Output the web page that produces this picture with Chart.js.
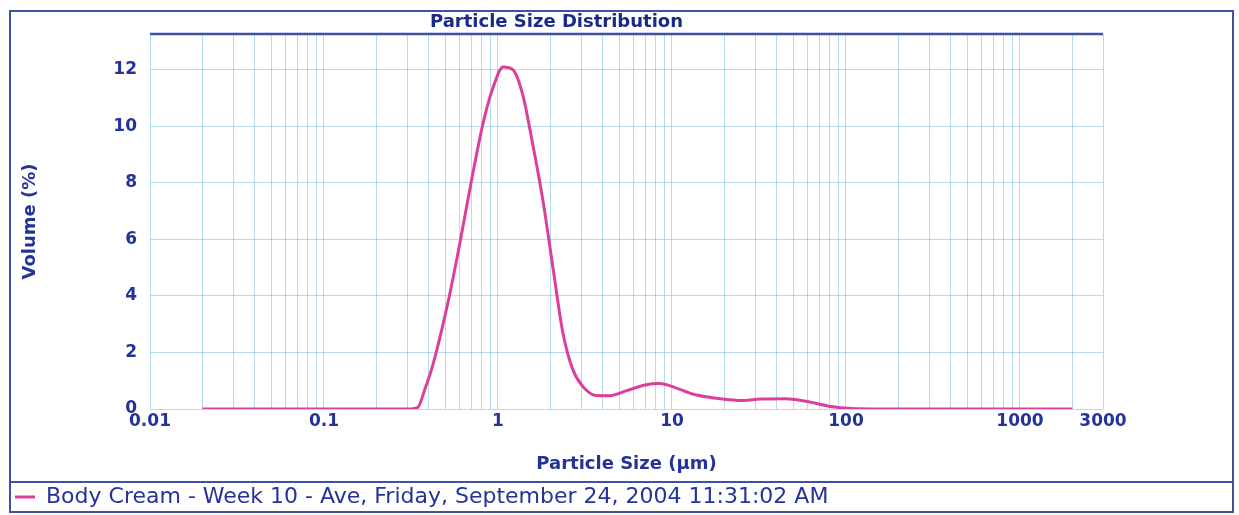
<!DOCTYPE html>
<html>
<head>
<meta charset="utf-8">
<title>Particle Size Distribution</title>
<script src="https://cdn.jsdelivr.net/npm/chart.js@4.4.1/dist/chart.umd.min.js"></script>
<style>
  html, body { margin: 0; padding: 0; background: #fff; }
  #wrap { width: 1239px; height: 515px; }
</style>
</head>
<body>
<div id="wrap"><canvas id="psdChart" width="1239" height="515"></canvas></div>
<script>
// particle size (µm) and volume (%)
const particleSize = [0.02, 0.05, 0.1, 0.2, 0.3, 0.345, 0.38, 0.424, 0.517, 0.605, 0.70, 0.82, 0.94, 1.07,
    1.22, 1.39, 1.58, 1.81, 2.07, 2.36, 2.69, 3.07, 3.64, 4.37, 5.5, 7.0, 8.5, 10.5, 13.1, 17, 21.3, 26,
    32, 45, 58, 80, 108, 200, 500, 1000, 2000];
const volumePct = [0, 0, 0, 0, 0, 0.05, 0.7, 1.6, 3.8, 5.9, 8.0, 10.1, 11.4, 12.1,
    12.0, 11.1, 9.4, 7.4, 5.0, 2.7, 1.4, 0.8, 0.48, 0.47, 0.65, 0.85, 0.9, 0.75, 0.53, 0.4, 0.33, 0.3,
    0.35, 0.36, 0.28, 0.1, 0.02, 0, 0, 0, 0];

const xTickLabels = [0.01, 0.1, 1, 10, 100, 1000, 3000];
const yTickValues = [0, 2, 4, 6, 8, 10, 12];
const seriesLabel = 'Body Cream - Week 10 - Ave, Friday, September 24, 2004 11:31:02 AM';

const textBlue = '#24339a';
const frameBlue = '#3b52a6';
const gridBlue = 'rgba(120, 185, 225, 0.55)';

// gridlines at every 1..9 step of each decade, plus the 3000 end
const xGridTicks = [];
for (let n = -2; n <= 3; n++) {
    for (let k = 1; k <= 9; k++) {
        const v = Number((k * Math.pow(10, n)).toPrecision(6));
        if (v >= 0.01 && v <= 3000) xGridTicks.push(v);
    }
}

const isLabelled = v => xTickLabels.some(t => Math.abs(t - v) / t < 1e-6);

// white background, outer frame, legend divider and the plot top rule
const framePlugin = {
    id: 'frame',
    beforeDraw(chart) {
        const ctx = chart.ctx;
        ctx.save();
        ctx.fillStyle = '#fff';
        ctx.fillRect(0, 0, chart.width, chart.height);
        ctx.restore();
    },
    afterDraw(chart) {
        const { ctx, chartArea } = chart;
        ctx.save();
        ctx.strokeStyle = frameBlue;
        ctx.lineWidth = 2;
        ctx.strokeRect(10, 11, 1223, 501);
        ctx.beginPath();
        ctx.moveTo(10, 482);
        ctx.lineTo(1233, 482);
        ctx.stroke();
        ctx.lineWidth = 2.5;
        ctx.beginPath();
        ctx.moveTo(chartArea.left, chartArea.top);
        ctx.lineTo(chartArea.right, chartArea.top);
        ctx.stroke();
        ctx.restore();
    }
};

const ctx = document.getElementById('psdChart').getContext('2d');
new Chart(ctx, {
    type: 'line',
    data: {
        datasets: [{
            label: seriesLabel,
            data: particleSize.map((s, i) => ({ x: s, y: volumePct[i] })),
            borderColor: '#dc3f9b',
            backgroundColor: '#dc3f9b',
            borderWidth: 3,
            pointRadius: 0,
            fill: false,
            cubicInterpolationMode: 'monotone'
        }]
    },
    options: {
        responsive: false,
        devicePixelRatio: 1,
        animation: false,
        layout: { padding: { left: 10, right: 136, top: 10, bottom: -3 } },
        plugins: {
            title: {
                display: true,
                text: 'Particle Size Distribution',
                color: '#1b2a8a',
                font: { family: 'DejaVu Sans', size: 18, weight: 'bold' },
                padding: { top: 2, bottom: 0.4 }
            },
            legend: {
                position: 'bottom',
                align: 'start',
                labels: {
                    usePointStyle: true,
                    pointStyle: 'line',
                    pointStyleWidth: 20,
                    padding: 5,
                    color: textBlue,
                    font: { family: 'DejaVu Sans', size: 22 }
                }
            },
            tooltip: { enabled: false }
        },
        scales: {
            x: {
                type: 'logarithmic',
                min: 0.01,
                max: 3000,
                afterBuildTicks: scale => {
                    scale.ticks = xGridTicks.map(v => ({ value: v }));
                },
                afterFit: scale => { scale.height = 72; },
                ticks: {
                    autoSkip: false,
                    maxRotation: 0,
                    padding: 2,
                    color: textBlue,
                    font: { family: 'DejaVu Sans', size: 17, weight: 'bold' },
                    callback: value => isLabelled(value) ? String(value) : ''
                },
                grid: {
                    drawTicks: false,
                    color: gridBlue,
                    lineWidth: 1
                },
                border: { display: false },
                title: {
                    display: true,
                    text: 'Particle Size (µm)',
                    color: textBlue,
                    font: { family: 'DejaVu Sans', size: 18, weight: 'bold' },
                    padding: { top: 0, bottom: 6 }
                }
            },
            y: {
                min: 0,
                max: 13.27,
                afterBuildTicks: scale => {
                    scale.ticks = yTickValues.map(v => ({ value: v }));
                },
                afterFit: scale => { scale.width = 140; },
                ticks: {
                    padding: 13,
                    color: textBlue,
                    font: { family: 'DejaVu Sans', size: 17, weight: 'bold' }
                },
                grid: {
                    drawTicks: false,
                    color: gridBlue,
                    lineWidth: 1
                },
                border: { display: false },
                title: {
                    display: true,
                    text: 'Volume (%)',
                    color: textBlue,
                    font: { family: 'DejaVu Sans', size: 18, weight: 'bold' },
                    padding: { top: 10, bottom: 0 }
                }
            }
        }
    },
    plugins: [framePlugin]
});
</script>
</body>
</html>
